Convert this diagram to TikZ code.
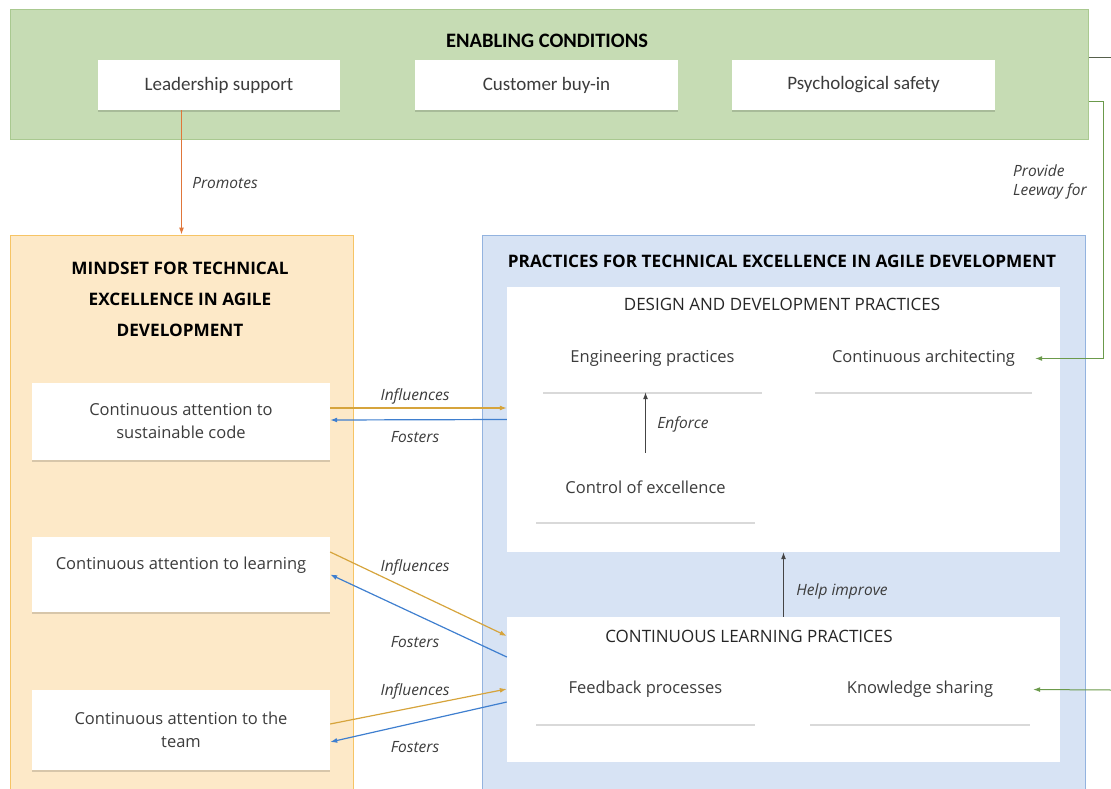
\documentclass[tikz,border=0pt]{standalone}
\usepackage{fontspec}
\setmainfont{Open Sans}
\newfontfamily\calfont{Carlito}
\usepackage{tikz}
\usetikzlibrary{arrows.meta,shadows}

\definecolor{condfill}{HTML}{C6DCB4}
\definecolor{conddraw}{HTML}{A9C990}
\definecolor{mindfill}{HTML}{FDE9C8}
\definecolor{minddraw}{HTML}{F6C465}
\definecolor{pracfill}{HTML}{D7E3F4}
\definecolor{pracdraw}{HTML}{93B3DF}
\definecolor{promcol}{HTML}{E0763A}
\definecolor{inflcol}{HTML}{D6A43C}
\definecolor{fostcol}{HTML}{3F7FCF}
\definecolor{leewcol}{HTML}{6B9A4B}
\definecolor{rimcol}{HTML}{56604C}
\definecolor{txtgray}{HTML}{3C3C3C}
\definecolor{arrgray}{HTML}{444444}

\tikzset{
  area/.style={draw=#1draw, fill=#1fill, line width=1pt, inner sep=0pt},
  card/.style={fill=white, inner sep=2pt, align=center, text=txtgray,
    font=\fontsize{16.5}{23}\selectfont,
    drop shadow={shadow xshift=0pt, shadow yshift=-2pt, opacity=.15, fill=black}},
  topcard/.style={card, font=\calfont\fontsize{19}{22}\selectfont},
  panel/.style={fill=white, inner sep=0pt},
  head/.style={font=\bfseries\fontsize{17.2}{31}\selectfont, align=center},
  subhead/.style={font=\fontsize{17}{20}\selectfont, text=black!85},
  lbl/.style={font=\itshape\fontsize{15.5}{19}\selectfont, text=txtgray, inner sep=1pt},
  tip/.style={-{Latex[length=7pt,width=5pt]}},
}

\begin{document}
\begin{tikzpicture}[x=1pt,y=-1pt]
\useasboundingbox (0,0) rectangle (1111,789);

% enabling conditions
\node[area=cond, minimum width=1078pt, minimum height=130pt] (cond) at (549,75) {};
\node[head, font=\calfont\bfseries\fontsize{20.5}{22}\selectfont] (condT) at (547,41) {ENABLING CONDITIONS};
\node[topcard, minimum width=242pt, minimum height=50pt] (lead) at (219,85) {Leadership support};
\node[topcard, minimum width=263pt, minimum height=50pt] (cust) at (546.5,85) {Customer buy-in};
\node[topcard, minimum width=263pt, minimum height=50pt] (psych) at (863.5,85) {Psychological safety};

% mindset
\node[area=mind, minimum width=343pt, minimum height=554pt] (mind) at (181.5,512) {};
\node[head] (mindT) at (180,299) {MINDSET FOR TECHNICAL\\EXCELLENCE IN AGILE\\DEVELOPMENT};
\node[card, minimum width=298pt, minimum height=77pt] (sust) at (181,421.5) {Continuous attention to\\sustainable code};
\node[card, minimum width=298pt, minimum height=75pt] (learn) at (181,574.5) {Continuous attention to learning\\\mbox{}};
\node[card, minimum width=298pt, minimum height=80pt] (team) at (181,730) {Continuous attention to the\\team};

% practices
\node[area=prac, minimum width=603pt, minimum height=554pt] (prac) at (783.5,512) {};
\node[head] (pracT) at (782,261) {PRACTICES FOR TECHNICAL EXCELLENCE IN AGILE DEVELOPMENT};

\node[panel, minimum width=553pt, minimum height=265pt] (dd) at (783.5,419.5) {};
\node[subhead] (ddT) at (782,304) {DESIGN AND DEVELOPMENT PRACTICES};
\node[card, minimum width=219pt, minimum height=67pt] (eng) at (652.5,358.5) {Engineering practices};
\node[card, minimum width=217pt, minimum height=67pt] (arch) at (923.5,358.5) {Continuous architecting};
\node[card, minimum width=219pt, minimum height=69pt] (ctrl) at (645.5,487.5) {Control of excellence};

\node[panel, minimum width=553pt, minimum height=145pt] (cl) at (783.5,689.5) {};
\node[subhead] (clT) at (749,636) {CONTINUOUS LEARNING PRACTICES};
\node[card, minimum width=219pt, minimum height=69pt] (fb) at (645.5,689.5) {Feedback processes};
\node[card, minimum width=220pt, minimum height=69pt] (ks) at (920,689.5) {Knowledge sharing};

% relations
\draw[tip, promcol, line width=1pt] (lead.south -| mind.north) -- (mind.north);
\node[lbl] (promL) at (225,183) {Promotes};

\draw[tip, arrgray, line width=1pt] (ctrl.north) -- (ctrl.north |- eng.south);
\node[lbl] (enfL) at (683,424) {Enforce};
\draw[tip, arrgray, line width=1pt] (cl.north) -- (dd.south);
\node[lbl] (helpL) at (842,591) {Help improve};

\draw[tip, inflcol, line width=1.2pt] ([yshift=13.5pt]sust.east) -- ([yshift=11.5pt]dd.west);
\draw[tip, fostcol, line width=1.2pt] ([yshift=0pt]dd.west) -- ([yshift=1.5pt]sust.east);
\node[lbl] (infA) at (415,396) {Influences};
\node[lbl] (fosA) at (415,437) {Fosters};

\draw[tip, inflcol, line width=1.2pt] ([yshift=22.5pt]learn.east) -- ([yshift=53.5pt]cl.west);
\draw[tip, fostcol, line width=1.2pt] ([yshift=32.5pt]cl.west) -- ([yshift=0pt]learn.east);
\node[lbl] (infB) at (415,567) {Influences};
\node[lbl] (fosB) at (415,642) {Fosters};

\draw[tip, inflcol, line width=1.2pt] ([yshift=6pt]team.east) -- ([yshift=0.5pt]cl.west);
\draw[tip, fostcol, line width=1.2pt] ([yshift=-12.5pt]cl.west) -- ([yshift=-12pt]team.east);
\node[lbl] (infC) at (415,691) {Influences};
\node[lbl] (fosC) at (415,747) {Fosters};

% leeway
\coordinate (rimTop) at (1111,58);
\coordinate (rimBot) at (1111,690);
\draw[rimcol, line width=1pt] ([yshift=17pt]cond.east) -- (rimTop);
\draw[tip, leewcol, line width=1pt, shorten >=3pt] ([yshift=-27pt]cond.east) -- ++(15,0) |- (arch.east);
\draw[tip, leewcol, line width=1pt, shorten >=3pt] (rimBot) -- (ks.east);
\node[lbl, anchor=west, align=left] (leeL) at (1012,181.5) {Provide\\Leeway for};

\end{tikzpicture}
\end{document}
